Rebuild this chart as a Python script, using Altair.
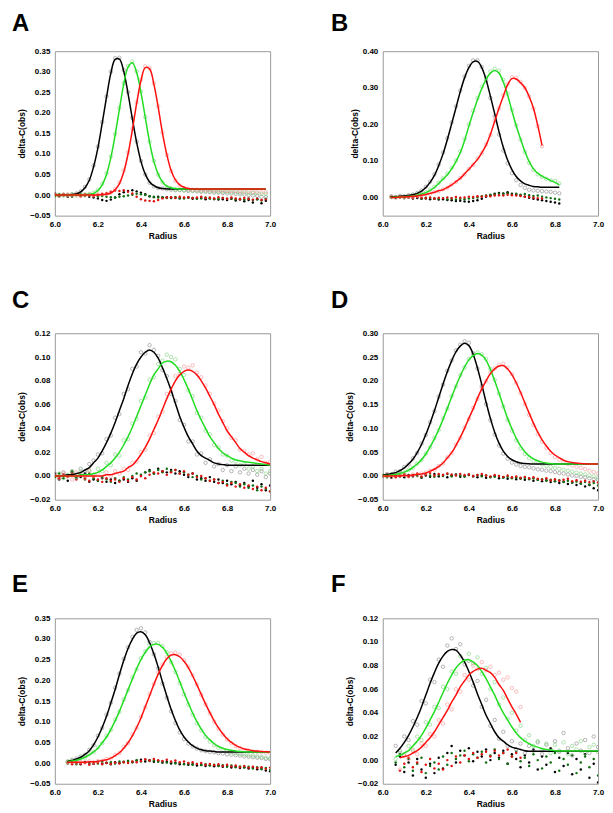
import altair as alt
import pandas as pd

RADIUS = [6.00, 6.02, 6.04, 6.06, 6.08, 6.10, 6.12, 6.14, 6.16, 6.18,
          6.20, 6.22, 6.24, 6.26, 6.28, 6.30, 6.32, 6.34, 6.36, 6.38,
          6.40, 6.42, 6.44, 6.46, 6.48, 6.50, 6.52, 6.54, 6.56, 6.58,
          6.60, 6.62, 6.64, 6.66, 6.68, 6.70, 6.72, 6.74, 6.76, 6.78,
          6.80, 6.82, 6.84, 6.86, 6.88, 6.90, 6.92, 6.94, 6.96, 6.98, 7.00]
SERIES = ["black", "green", "red"]
X_TICKS = [6.0, 6.2, 6.4, 6.6, 6.8, 7.0]

# ---------------- Panel A (starts 6.00) ----------------
A_FIT_K = [0.000, 0.000, 0.000, 0.000, 0.001, 0.003, 0.008, 0.018, 0.036, 0.069,
           0.115, 0.175, 0.238, 0.296, 0.330, 0.331, 0.301, 0.247, 0.186, 0.128,
           0.082, 0.051, 0.032, 0.023, 0.018, 0.016, 0.015, 0.015, 0.015, 0.015,
           0.015, 0.015, 0.015, 0.015, 0.015, 0.015, 0.015, 0.015, 0.015, 0.015,
           0.015, 0.015, 0.015, 0.015, 0.015, 0.015, 0.015, 0.015, 0.015, 0.015]
A_FIT_G = [0.000, 0.000, 0.000, 0.000, 0.000, 0.000, 0.000, 0.001, 0.002, 0.004,
           0.011, 0.025, 0.050, 0.091, 0.146, 0.209, 0.270, 0.311, 0.322, 0.298,
           0.250, 0.189, 0.129, 0.082, 0.051, 0.032, 0.022, 0.018, 0.016, 0.015,
           0.015, 0.015, 0.015, 0.015, 0.015, 0.015, 0.015, 0.015, 0.015, 0.015,
           0.015, 0.015, 0.015, 0.015, 0.015, 0.015, 0.015, 0.015, 0.015, 0.015]
A_FIT_R = [0.000, 0.000, 0.000, 0.000, 0.000, 0.000, 0.000, 0.000, 0.000, 0.000,
           0.000, 0.001, 0.002, 0.005, 0.013, 0.028, 0.056, 0.100, 0.158, 0.223,
           0.278, 0.310, 0.307, 0.270, 0.214, 0.151, 0.099, 0.060, 0.037, 0.025,
           0.019, 0.016, 0.015, 0.015, 0.015, 0.015, 0.015, 0.015, 0.015, 0.015,
           0.015, 0.015, 0.015, 0.015, 0.015, 0.015, 0.015, 0.015, 0.015, 0.015]
A_OBS_K = [0.003, -0.002, 0.001, -0.001, 0.002, 0.004, 0.009, 0.020, 0.038, 0.072,
           0.118, 0.178, 0.240, 0.300, 0.333, 0.334, 0.304, 0.250, 0.188, 0.130,
           0.083, 0.050, 0.030, 0.021, 0.017, 0.016, 0.014, 0.013, 0.012, 0.012,
           0.011, 0.010, 0.010, 0.009, 0.008, 0.008, 0.007, 0.006, 0.006, 0.005,
           0.004, 0.004, 0.003, 0.002, 0.001, 0.000, -0.001, -0.002, -0.004, -0.005]
A_OBS_G = [-0.002, 0.001, -0.001, 0.000, 0.002, -0.001, 0.001, 0.002, 0.003, 0.006,
           0.013, 0.027, 0.053, 0.094, 0.149, 0.212, 0.272, 0.314, 0.325, 0.301,
           0.252, 0.190, 0.130, 0.083, 0.050, 0.031, 0.020, 0.016, 0.014, 0.013,
           0.012, 0.012, 0.011, 0.011, 0.010, 0.010, 0.009, 0.009, 0.008, 0.008,
           0.008, 0.007, 0.007, 0.006, 0.006, 0.005, 0.005, 0.004, 0.003, 0.003]
A_OBS_R = [0.001, -0.002, 0.000, 0.002, -0.001, 0.001, -0.002, 0.000, 0.001, -0.001,
           0.002, 0.002, 0.003, 0.006, 0.015, 0.031, 0.060, 0.104, 0.162, 0.226,
           0.281, 0.313, 0.309, 0.272, 0.216, 0.152, 0.098, 0.058, 0.035, 0.023,
           0.017, 0.014, 0.013, 0.013, 0.012, 0.012, 0.012, 0.011, 0.011, 0.011,
           0.010, 0.010, 0.010, 0.009, 0.009, 0.009, 0.008, 0.008, 0.007, 0.007]
A_RES_K = [0.004, -0.003, 0.002, -0.004, 0.001, 0.003, -0.002, 0.000, -0.004, -0.006,
           -0.008, -0.012, -0.014, -0.011, -0.006, 0.002, 0.007, 0.010, 0.012, 0.009,
           0.006, 0.002, -0.003, -0.005, -0.004, -0.006, -0.005, -0.007, -0.006, -0.008,
           -0.007, -0.006, -0.009, -0.008, -0.007, -0.010, -0.008, -0.009, -0.011, -0.010,
           -0.012, -0.009, -0.013, -0.011, -0.015, -0.012, -0.018, -0.010, -0.020, -0.014]
A_RES_G = [-0.003, 0.002, -0.001, 0.001, -0.004, 0.000, 0.002, -0.002, 0.001, -0.001,
           -0.003, -0.002, -0.004, -0.005, -0.006, -0.004, -0.003, -0.001, 0.001, 0.003,
           0.002, 0.000, -0.003, -0.004, -0.006, -0.005, -0.007, -0.006, -0.005, -0.007,
           -0.008, -0.006, -0.007, -0.009, -0.008, -0.006, -0.008, -0.010, -0.009, -0.007,
           -0.009, -0.008, -0.010, -0.009, -0.011, -0.008, -0.012, -0.010, -0.013, -0.009]
A_RES_R = [0.002, -0.001, 0.003, -0.002, 0.000, 0.001, -0.003, 0.002, 0.000, -0.002,
           0.001, 0.003, 0.005, 0.008, 0.011, 0.010, 0.012, 0.008, 0.004, -0.004,
           -0.010, -0.013, -0.014, -0.015, -0.012, -0.008, -0.006, -0.005, -0.007, -0.004,
           -0.006, -0.005, -0.007, -0.006, -0.004, -0.007, -0.006, -0.008, -0.005, -0.007,
           -0.009, -0.006, -0.008, -0.010, -0.007, -0.009, -0.011, -0.008, -0.012, -0.010]

# ---------------- Panel B (starts 6.04) ----------------
B_FIT_K = [0.002, 0.002, 0.003, 0.004, 0.005, 0.007, 0.011, 0.017, 0.027, 0.041,
           0.060, 0.087, 0.119, 0.158, 0.201, 0.245, 0.289, 0.327, 0.355, 0.371,
           0.372, 0.355, 0.322, 0.277, 0.229, 0.180, 0.137, 0.102, 0.076, 0.057,
           0.045, 0.037, 0.033, 0.030, 0.029, 0.028, 0.028, 0.028, 0.028, 0.028]
B_FIT_G = [0.000, 0.001, 0.001, 0.002, 0.003, 0.004, 0.006, 0.009, 0.013, 0.019,
           0.027, 0.038, 0.050, 0.062, 0.078, 0.098, 0.122, 0.155, 0.195, 0.232,
           0.267, 0.298, 0.323, 0.340, 0.347, 0.340, 0.316, 0.280, 0.237, 0.196,
           0.160, 0.126, 0.098, 0.078, 0.066, 0.058, 0.052, 0.046, 0.041, 0.034]
B_FIT_R = [0.000, 0.000, 0.001, 0.001, 0.002, 0.003, 0.004, 0.006, 0.008, 0.011,
           0.014, 0.018, 0.021, 0.027, 0.034, 0.043, 0.052, 0.064, 0.077, 0.090,
           0.104, 0.122, 0.143, 0.172, 0.208, 0.244, 0.277, 0.308, 0.325, 0.324,
           0.314, 0.300, 0.276, 0.244, 0.197, 0.142]
B_OBS_K = [0.003, 0.001, 0.004, 0.003, 0.006, 0.008, 0.012, 0.019, 0.029, 0.043,
           0.063, 0.090, 0.123, 0.162, 0.205, 0.249, 0.292, 0.331, 0.360, 0.375,
           0.375, 0.357, 0.320, 0.272, 0.222, 0.172, 0.128, 0.093, 0.066, 0.047,
           0.034, 0.026, 0.021, 0.019, 0.018, 0.017, 0.016, 0.015, 0.013, 0.011]
B_OBS_G = [0.001, 0.000, 0.002, 0.001, 0.003, 0.005, 0.007, 0.010, 0.014, 0.021,
           0.029, 0.040, 0.052, 0.065, 0.081, 0.101, 0.126, 0.160, 0.200, 0.237,
           0.272, 0.303, 0.328, 0.345, 0.352, 0.347, 0.322, 0.284, 0.240, 0.197,
           0.158, 0.124, 0.095, 0.075, 0.063, 0.056, 0.051, 0.047, 0.045, 0.038]
B_OBS_R = [0.001, -0.001, 0.002, 0.000, 0.003, 0.002, 0.005, 0.006, 0.009, 0.010,
           0.015, 0.017, 0.022, 0.026, 0.035, 0.042, 0.053, 0.063, 0.078, 0.089,
           0.106, 0.121, 0.145, 0.171, 0.210, 0.243, 0.279, 0.310, 0.329, 0.327,
           0.316, 0.299, 0.276, 0.243, 0.195, 0.140]
B_RES_K = [0.002, -0.001, 0.001, -0.002, 0.000, -0.003, -0.002, -0.004, -0.003, -0.005,
           -0.004, -0.006, -0.005, -0.007, -0.008, -0.010, -0.009, -0.011, -0.012, -0.010,
           -0.008, -0.004, 0.002, 0.006, 0.010, 0.012, 0.011, 0.014, 0.010, 0.008,
           0.005, 0.002, -0.001, -0.004, -0.006, -0.008, -0.010, -0.012, -0.014, -0.017]
B_RES_G = [-0.001, 0.002, 0.000, -0.002, 0.001, -0.001, 0.000, -0.003, -0.001, -0.002,
           -0.003, -0.004, -0.002, -0.005, -0.003, -0.006, -0.004, -0.005, -0.003, -0.002,
           0.000, 0.003, 0.005, 0.007, 0.008, 0.010, 0.009, 0.011, 0.008, 0.010,
           0.007, 0.009, 0.006, 0.004, 0.005, 0.002, 0.000, -0.002, -0.004, -0.006]
B_RES_R = [0.000, 0.002, -0.001, 0.001, 0.000, -0.002, 0.001, -0.001, -0.002, 0.000,
           -0.003, -0.001, -0.002, 0.000, -0.002, 0.001, -0.001, 0.000, 0.002, 0.001,
           0.003, 0.002, 0.004, 0.003, 0.005, 0.006, 0.005, 0.007, 0.006, 0.005,
           0.004, 0.002, 0.001, -0.001, -0.002, -0.003]

# ---------------- Panel C (starts 6.00) ----------------
C_FIT_K = [0.000, 0.000, 0.000, 0.001, 0.001, 0.002, 0.003, 0.005, 0.007, 0.011,
           0.015, 0.021, 0.028, 0.036, 0.045, 0.055, 0.065, 0.076, 0.086, 0.094,
           0.100, 0.104, 0.106, 0.104, 0.099, 0.091, 0.082, 0.072, 0.061, 0.050,
           0.041, 0.033, 0.027, 0.021, 0.017, 0.015, 0.013, 0.011, 0.010, 0.0095,
           0.009, 0.009, 0.009, 0.009, 0.009, 0.009, 0.009, 0.009, 0.009, 0.009, 0.009]
C_FIT_G = [0.000, 0.000, 0.000, 0.000, 0.000, 0.000, 0.001, 0.001, 0.001, 0.002,
           0.003, 0.005, 0.008, 0.011, 0.015, 0.020, 0.026, 0.033, 0.041, 0.050,
           0.059, 0.068, 0.077, 0.085, 0.090, 0.095, 0.0965, 0.096, 0.093, 0.088,
           0.081, 0.073, 0.064, 0.055, 0.047, 0.040, 0.033, 0.028, 0.023, 0.0195,
           0.017, 0.015, 0.0136, 0.0127, 0.012, 0.0115, 0.011, 0.0105, 0.010, 0.0095, 0.009]
C_FIT_R = [0.000, 0.000, 0.000, 0.000, 0.000, 0.000, 0.000, 0.000, 0.000, 0.000,
           0.000, 0.000, 0.001, 0.001, 0.002, 0.003, 0.004, 0.007, 0.009, 0.013,
           0.018, 0.024, 0.031, 0.039, 0.047, 0.056, 0.065, 0.073, 0.080, 0.085,
           0.088, 0.089, 0.088, 0.085, 0.080, 0.074, 0.067, 0.060, 0.052, 0.045,
           0.038, 0.033, 0.028, 0.023, 0.020, 0.017, 0.015, 0.0135, 0.012, 0.011, 0.010]
C_OBS_K = [0.002, -0.002, 0.003, 0.000, 0.004, -0.001, 0.006, 0.003, 0.010, 0.013,
           0.018, 0.019, 0.031, 0.034, 0.049, 0.052, 0.069, 0.073, 0.090, 0.092,
           0.104, 0.103, 0.110, 0.106, 0.101, 0.089, 0.084, 0.069, 0.063, 0.047,
           0.043, 0.029, 0.029, 0.018, 0.019, 0.011, 0.014, 0.008, 0.010, 0.005,
           0.009, 0.004, 0.008, 0.003, 0.006, 0.002, 0.005, 0.001, 0.004, -0.001, 0.002]
C_OBS_G = [-0.001, 0.002, -0.002, 0.001, 0.003, -0.001, 0.004, 0.000, 0.005, 0.001,
           0.006, 0.004, 0.011, 0.009, 0.018, 0.017, 0.030, 0.031, 0.044, 0.048,
           0.063, 0.066, 0.081, 0.083, 0.094, 0.097, 0.102, 0.100, 0.098, 0.090,
           0.085, 0.072, 0.067, 0.053, 0.049, 0.038, 0.035, 0.026, 0.024, 0.018,
           0.017, 0.013, 0.012, 0.009, 0.010, 0.006, 0.008, 0.004, 0.006, 0.002, 0.004]
C_OBS_R = [0.001, -0.002, 0.002, 0.000, -0.003, 0.003, 0.001, -0.002, 0.004, 0.000,
           0.002, -0.001, 0.003, 0.000, 0.004, 0.002, 0.006, 0.005, 0.011, 0.012,
           0.020, 0.022, 0.034, 0.036, 0.050, 0.054, 0.069, 0.071, 0.084, 0.086,
           0.092, 0.091, 0.093, 0.087, 0.083, 0.076, 0.069, 0.061, 0.055, 0.046,
           0.040, 0.032, 0.030, 0.022, 0.021, 0.018, 0.019, 0.014, 0.016, 0.011, 0.012]
C_RES_K = [0.002, -0.003, 0.001, -0.004, 0.003, -0.002, -0.001, 0.002, -0.005, -0.003,
           -0.004, -0.002, -0.005, -0.003, -0.006, -0.004, -0.003, -0.005, -0.002, -0.004,
           0.000, 0.003, 0.005, 0.002, 0.006, 0.004, 0.003, 0.005, 0.002, 0.004,
           0.001, -0.001, 0.002, -0.003, -0.002, -0.004, -0.001, -0.005, -0.003, -0.006,
           -0.004, -0.007, -0.005, -0.008, -0.006, -0.009, -0.004, -0.010, -0.007, -0.012, -0.008]
C_RES_G = [-0.001, 0.002, -0.002, 0.000, 0.004, -0.001, 0.001, -0.003, 0.002, -0.002,
           -0.004, -0.001, -0.003, -0.005, -0.002, -0.004, -0.001, -0.003, 0.000, 0.002,
           0.001, 0.003, 0.004, 0.002, 0.005, 0.003, 0.006, 0.004, 0.005, 0.002,
           0.003, 0.001, -0.001, 0.000, -0.003, -0.002, -0.004, -0.003, -0.006, -0.004,
           -0.007, -0.005, -0.006, -0.009, -0.007, -0.010, -0.008, -0.012, -0.009, -0.011, -0.013]
C_RES_R = [0.000, -0.002, 0.001, -0.001, 0.002, -0.003, 0.000, -0.002, -0.004, -0.001,
           -0.003, -0.005, -0.002, -0.004, -0.003, -0.005, -0.002, -0.004, -0.001, -0.003,
           0.000, -0.002, 0.001, 0.003, 0.002, 0.004, 0.001, 0.003, 0.005, 0.002,
           0.004, 0.001, 0.002, -0.001, 0.000, -0.002, -0.004, -0.003, -0.006, -0.005,
           -0.008, -0.006, -0.009, -0.007, -0.010, -0.008, -0.011, -0.009, -0.012, -0.010, -0.013]

# ---------------- Panel D (starts 6.00) ----------------
D_FIT_K = [0.002, 0.003, 0.005, 0.007, 0.011, 0.017, 0.025, 0.035, 0.049, 0.066,
           0.087, 0.111, 0.137, 0.165, 0.193, 0.219, 0.242, 0.261, 0.273, 0.279,
           0.274, 0.256, 0.227, 0.192, 0.155, 0.121, 0.092, 0.069, 0.052, 0.041,
           0.034, 0.030, 0.027, 0.026, 0.0255, 0.025, 0.025, 0.025, 0.025, 0.025,
           0.025, 0.025, 0.025, 0.025, 0.025, 0.025, 0.025, 0.025, 0.025, 0.025, 0.025]
D_FIT_G = [0.001, 0.001, 0.002, 0.003, 0.005, 0.008, 0.012, 0.018, 0.025, 0.034,
           0.046, 0.061, 0.078, 0.097, 0.119, 0.142, 0.166, 0.189, 0.210, 0.229,
           0.244, 0.253, 0.2575, 0.254, 0.243, 0.224, 0.200, 0.174, 0.147, 0.121,
           0.099, 0.079, 0.063, 0.051, 0.042, 0.036, 0.032, 0.029, 0.027, 0.026,
           0.025, 0.025, 0.025, 0.025, 0.025, 0.025, 0.025, 0.025, 0.025, 0.025, 0.025]
D_FIT_R = [0.000, 0.000, 0.000, 0.000, 0.000, 0.001, 0.001, 0.002, 0.003, 0.004,
           0.006, 0.010, 0.014, 0.020, 0.027, 0.038, 0.049, 0.064, 0.081, 0.100,
           0.121, 0.141, 0.163, 0.183, 0.200, 0.215, 0.225, 0.231, 0.232, 0.225,
           0.213, 0.196, 0.176, 0.154, 0.132, 0.111, 0.092, 0.076, 0.063, 0.052,
           0.044, 0.038, 0.033, 0.030, 0.028, 0.027, 0.026, 0.0255, 0.025, 0.025, 0.025]
D_OBS_K = [0.000, 0.004, 0.003, 0.009, 0.010, 0.019, 0.024, 0.037, 0.048, 0.068,
           0.086, 0.113, 0.136, 0.167, 0.192, 0.221, 0.243, 0.264, 0.276, 0.283,
           0.280, 0.258, 0.226, 0.189, 0.151, 0.117, 0.087, 0.064, 0.047, 0.036,
           0.028, 0.024, 0.021, 0.019, 0.018, 0.016, 0.014, 0.013, 0.011, 0.010,
           0.008, 0.006, 0.005, 0.003, 0.001, 0.000, -0.002, -0.003, -0.005, -0.007, -0.008]
D_OBS_G = [0.002, -0.001, 0.003, 0.002, 0.006, 0.007, 0.013, 0.017, 0.026, 0.033,
           0.047, 0.060, 0.080, 0.096, 0.121, 0.141, 0.168, 0.188, 0.212, 0.228,
           0.246, 0.254, 0.260, 0.256, 0.246, 0.225, 0.202, 0.173, 0.146, 0.118,
           0.095, 0.075, 0.058, 0.046, 0.037, 0.031, 0.027, 0.024, 0.021, 0.019,
           0.017, 0.015, 0.013, 0.011, 0.009, 0.007, 0.005, 0.003, 0.001, -0.001, -0.003]
D_OBS_R = [-0.001, 0.001, -0.002, 0.002, 0.000, 0.002, -0.001, 0.003, 0.002, 0.005,
           0.007, 0.011, 0.013, 0.021, 0.026, 0.039, 0.048, 0.066, 0.080, 0.102,
           0.120, 0.143, 0.162, 0.185, 0.199, 0.217, 0.226, 0.234, 0.236, 0.228,
           0.214, 0.196, 0.174, 0.151, 0.128, 0.107, 0.088, 0.072, 0.059, 0.048,
           0.040, 0.034, 0.029, 0.025, 0.022, 0.019, 0.017, 0.014, 0.011, 0.008, 0.005]
D_RES_K = [-0.002, 0.003, -0.004, 0.001, 0.004, -0.003, 0.002, -0.001, 0.003, -0.004,
           0.001, -0.002, 0.004, -0.001, 0.002, -0.003, 0.001, 0.003, -0.002, 0.000,
           0.002, -0.001, -0.003, 0.001, -0.004, -0.002, 0.000, -0.005, -0.003, -0.006,
           -0.004, -0.007, -0.005, -0.008, -0.006, -0.010, -0.008, -0.011, -0.009, -0.013,
           -0.011, -0.015, -0.012, -0.017, -0.014, -0.019, -0.016, -0.022, -0.019, -0.026, -0.030]
D_RES_G = [0.001, -0.003, 0.002, 0.000, -0.002, 0.003, -0.001, 0.002, 0.000, -0.003,
           0.003, 0.001, -0.002, 0.002, 0.000, 0.004, -0.001, 0.002, 0.001, -0.002,
           0.003, 0.000, 0.002, -0.001, 0.001, -0.003, -0.002, 0.000, -0.004, -0.002,
           -0.005, -0.003, -0.006, -0.004, -0.007, -0.005, -0.008, -0.007, -0.010, -0.008,
           -0.011, -0.009, -0.013, -0.010, -0.014, -0.012, -0.016, -0.013, -0.018, -0.015, -0.020]
D_RES_R = [0.002, -0.001, 0.003, -0.003, 0.001, 0.004, -0.002, 0.001, 0.005, -0.001,
           0.003, 0.006, 0.001, 0.004, 0.002, 0.005, 0.003, 0.001, 0.004, 0.002,
           0.003, 0.000, 0.002, 0.004, 0.001, -0.001, 0.002, 0.000, -0.002, 0.001,
           -0.003, -0.001, -0.004, -0.002, -0.005, -0.003, -0.006, -0.008, -0.005, -0.009,
           -0.007, -0.010, -0.008, -0.006, -0.011, -0.009, -0.012, -0.010, -0.013, -0.011, -0.014]

# ---------------- Panel E (starts 6.06) ----------------
E_FIT_K = [0.005, 0.006, 0.010, 0.014, 0.021, 0.030, 0.044, 0.063, 0.086, 0.113,
           0.145, 0.178, 0.214, 0.248, 0.277, 0.299, 0.314, 0.3175, 0.310, 0.291,
           0.264, 0.232, 0.196, 0.162, 0.130, 0.103, 0.080, 0.063, 0.051, 0.042,
           0.036, 0.032, 0.030, 0.029, 0.028, 0.027, 0.027, 0.027, 0.027, 0.027,
           0.027, 0.027, 0.027, 0.027, 0.027, 0.027, 0.027, 0.027]
E_FIT_G = [0.004, 0.005, 0.007, 0.010, 0.014, 0.020, 0.027, 0.036, 0.049, 0.063,
           0.081, 0.102, 0.125, 0.151, 0.177, 0.203, 0.228, 0.250, 0.268, 0.281,
           0.287, 0.287, 0.280, 0.266, 0.246, 0.223, 0.197, 0.170, 0.145, 0.121,
           0.100, 0.082, 0.067, 0.056, 0.047, 0.040, 0.036, 0.033, 0.031, 0.029,
           0.028, 0.0275, 0.027, 0.027, 0.027, 0.027, 0.027, 0.027]
E_FIT_R = [0.002, 0.002, 0.002, 0.002, 0.002, 0.003, 0.003, 0.004, 0.006, 0.008,
           0.012, 0.018, 0.025, 0.036, 0.049, 0.066, 0.086, 0.109, 0.136, 0.163,
           0.190, 0.215, 0.236, 0.252, 0.261, 0.262, 0.257, 0.246, 0.231, 0.211,
           0.189, 0.166, 0.143, 0.122, 0.102, 0.085, 0.071, 0.059, 0.050, 0.043,
           0.038, 0.034, 0.032, 0.030, 0.029, 0.028, 0.0275, 0.027]
E_OBS_K = [0.004, 0.008, 0.011, 0.016, 0.020, 0.032, 0.043, 0.066, 0.085, 0.117,
           0.146, 0.182, 0.216, 0.252, 0.280, 0.305, 0.322, 0.326, 0.316, 0.293,
           0.263, 0.229, 0.192, 0.158, 0.125, 0.097, 0.074, 0.058, 0.047, 0.040,
           0.035, 0.031, 0.029, 0.027, 0.026, 0.024, 0.023, 0.021, 0.020, 0.019,
           0.018, 0.016, 0.015, 0.014, 0.013, 0.012, 0.010, 0.009]
E_OBS_G = [0.003, 0.006, 0.006, 0.011, 0.013, 0.021, 0.026, 0.038, 0.048, 0.066,
           0.080, 0.105, 0.124, 0.154, 0.176, 0.207, 0.227, 0.254, 0.270, 0.286,
           0.290, 0.291, 0.283, 0.268, 0.244, 0.220, 0.193, 0.166, 0.141, 0.117,
           0.096, 0.079, 0.063, 0.052, 0.043, 0.037, 0.032, 0.029, 0.026, 0.024,
           0.022, 0.021, 0.019, 0.018, 0.016, 0.015, 0.013, 0.012]
E_OBS_R = [0.001, 0.003, 0.001, 0.003, 0.002, 0.004, 0.002, 0.005, 0.005, 0.010,
           0.011, 0.020, 0.024, 0.039, 0.048, 0.069, 0.085, 0.112, 0.135, 0.167,
           0.191, 0.219, 0.238, 0.256, 0.265, 0.267, 0.262, 0.249, 0.233, 0.212,
           0.190, 0.165, 0.142, 0.120, 0.100, 0.083, 0.069, 0.057, 0.048, 0.041,
           0.036, 0.032, 0.030, 0.028, 0.027, 0.026, 0.025, 0.024]
E_RES_K = [0.002, -0.002, 0.001, -0.003, 0.002, 0.000, -0.002, 0.003, -0.001, 0.001,
           -0.003, 0.002, 0.000, 0.003, 0.005, 0.002, 0.006, 0.008, 0.004, 0.007,
           0.003, 0.005, 0.001, 0.003, -0.001, 0.001, -0.003, -0.002, -0.004, -0.003,
           -0.006, -0.004, -0.007, -0.005, -0.008, -0.006, -0.009, -0.007, -0.011, -0.009,
           -0.012, -0.010, -0.013, -0.011, -0.015, -0.012, -0.018, -0.020]
E_RES_G = [-0.001, 0.001, -0.003, 0.000, 0.002, -0.002, 0.001, -0.001, 0.003, 0.000,
           0.002, -0.001, 0.004, 0.002, 0.005, 0.003, 0.007, 0.004, 0.008, 0.005,
           0.006, 0.003, 0.004, 0.001, 0.002, -0.001, 0.000, -0.003, -0.001, -0.004,
           -0.002, -0.005, -0.003, -0.006, -0.004, -0.007, -0.005, -0.009, -0.006, -0.010,
           -0.008, -0.011, -0.009, -0.013, -0.010, -0.015, -0.012, -0.017]
E_RES_R = [0.000, -0.003, 0.001, -0.002, 0.000, -0.004, -0.001, 0.001, -0.003, 0.000,
           -0.002, 0.001, -0.001, 0.002, 0.000, 0.004, 0.002, 0.005, 0.009, 0.006,
           0.010, 0.007, 0.005, 0.008, 0.004, 0.006, 0.002, 0.004, 0.000, 0.002,
           -0.002, 0.000, -0.004, -0.002, -0.005, -0.003, -0.007, -0.004, -0.008, -0.006,
           -0.010, -0.007, -0.011, -0.009, -0.012, -0.010, -0.014, -0.011]

# ---------------- Panel F (black/green start 6.06, red 6.08..6.64) ----------------
F_FIT_K = [0.006, 0.010, 0.015, 0.021, 0.028, 0.036, 0.045, 0.055, 0.065, 0.074,
           0.082, 0.088, 0.092, 0.0935, 0.093, 0.089, 0.083, 0.075, 0.066, 0.056,
           0.047, 0.038, 0.031, 0.024, 0.019, 0.016, 0.013, 0.011, 0.010, 0.009,
           0.008, 0.0075, 0.0075, 0.0075, 0.0075, 0.0075, 0.0075, 0.0075, 0.0075, 0.0075,
           0.0075, 0.0075, 0.0075, 0.0075, 0.0075, 0.0075, 0.0075, 0.0075]
F_FIT_G = [0.003, 0.004, 0.006, 0.008, 0.012, 0.016, 0.021, 0.027, 0.034, 0.041,
           0.049, 0.057, 0.065, 0.072, 0.078, 0.082, 0.0845, 0.085, 0.083, 0.080,
           0.075, 0.069, 0.062, 0.055, 0.047, 0.040, 0.034, 0.028, 0.023, 0.019,
           0.016, 0.014, 0.012, 0.011, 0.0096, 0.009, 0.0085, 0.008, 0.0078, 0.0078,
           0.0078, 0.0078, 0.0078, 0.0078, 0.0078, 0.0078, 0.0078, 0.0078]
F_FIT_R = [0.002, 0.003, 0.004, 0.006, 0.008, 0.011, 0.015, 0.019, 0.024, 0.030,
           0.036, 0.042, 0.049, 0.055, 0.062, 0.067, 0.072, 0.075, 0.077, 0.0777,
           0.076, 0.074, 0.070, 0.064, 0.059, 0.052, 0.045, 0.039, 0.032]
F_OBS_K = [0.012, 0.008, 0.020, 0.017, 0.033, 0.030, 0.050, 0.048, 0.068, 0.066,
           0.085, 0.079, 0.097, 0.103, 0.094, 0.098, 0.081, 0.084, 0.063, 0.067,
           0.045, 0.051, 0.029, 0.034, 0.018, 0.024, 0.012, 0.016, 0.009, 0.014,
           0.006, 0.012, 0.008, 0.015, 0.005, 0.013, 0.009, 0.016, 0.007, 0.023,
           0.010, 0.004, 0.014, 0.008, 0.017, 0.006, 0.020, 0.011]
F_OBS_G = [0.001, 0.006, 0.004, 0.012, 0.009, 0.020, 0.017, 0.032, 0.030, 0.045,
           0.044, 0.062, 0.060, 0.075, 0.073, 0.088, 0.084, 0.090, 0.082, 0.087,
           0.073, 0.078, 0.060, 0.066, 0.047, 0.053, 0.035, 0.040, 0.025, 0.029,
           0.017, 0.021, 0.012, 0.016, 0.009, 0.014, 0.006, 0.013, 0.008, 0.015,
           0.005, 0.012, 0.009, 0.016, 0.006, 0.011, 0.013, 0.007]
F_OBS_R = [-0.008, 0.004, 0.001, 0.008, 0.005, 0.014, 0.012, 0.022, 0.020, 0.034,
           0.031, 0.047, 0.043, 0.060, 0.058, 0.072, 0.068, 0.080, 0.077, 0.083,
           0.076, 0.079, 0.072, 0.074, 0.068, 0.070, 0.061, 0.058, 0.045]
F_RES_K = [-0.004, 0.003, -0.010, -0.002, -0.013, 0.001, -0.008, -0.015, -0.003, -0.011,
           0.002, -0.007, 0.006, 0.012, -0.002, 0.008, 0.004, 0.010, -0.001, 0.007,
           0.003, 0.009, 0.000, 0.006, 0.002, 0.008, -0.003, 0.005, 0.001, -0.006,
           0.004, -0.002, 0.009, -0.008, 0.003, -0.004, 0.010, -0.010, 0.002, -0.005,
           0.006, -0.012, 0.001, -0.008, 0.005, -0.015, -0.003, -0.019]
F_RES_G = [-0.002, 0.005, -0.006, 0.001, -0.009, -0.003, 0.002, -0.011, -0.005, -0.002,
           -0.008, 0.003, -0.004, 0.006, 0.001, 0.004, 0.008, -0.001, 0.005, 0.002,
           0.007, -0.002, 0.004, 0.009, 0.001, 0.006, -0.003, 0.003, 0.007, -0.001,
           0.002, -0.005, 0.005, 0.000, -0.007, 0.003, -0.002, 0.006, -0.009, 0.001,
           -0.004, 0.004, -0.011, -0.002, 0.003, -0.006, 0.001, -0.013]
F_RES_R = [-0.009, -0.003, 0.002, -0.006, -0.002, -0.010, -0.004, 0.001, -0.007, -0.003,
           -0.008, 0.000, -0.005, 0.003, -0.002, 0.004, 0.001, 0.006, 0.002, 0.005,
           0.007, 0.003, 0.008, 0.004, 0.006, 0.009, 0.003, 0.006, 0.002]

A_YTICKS = [-0.05, 0.0, 0.05, 0.10, 0.15, 0.20, 0.25, 0.30, 0.35]
B_YTICKS = [0.0, 0.10, 0.20, 0.30, 0.40]
C_YTICKS = [-0.02, 0.0, 0.02, 0.04, 0.06, 0.08, 0.10, 0.12]
D_YTICKS = [-0.05, 0.0, 0.05, 0.10, 0.15, 0.20, 0.25, 0.30]

# ---------------- styling ----------------
FONT = "Liberation Sans"
COLORS = {
    "fit": {"black": "#000000", "green": "#22dd22", "red": "#ff1010"},
    "obs": {"black": "#7a7a7a", "green": "#6fcf6f", "red": "#f58a8a"},
    "res": {"black": "#000000", "green": "#0f6e0f", "red": "#e01010"},
}

PANELS = [
    dict(letter="A", ymin=-0.05, ymax=0.35, yticks=A_YTICKS, h=165, dx=-43, off=11,
         fit=[(A_FIT_K, 0), (A_FIT_G, 0), (A_FIT_R, 0)],
         obs=[(A_OBS_K, 0), (A_OBS_G, 0), (A_OBS_R, 0)],
         res=[(A_RES_K, 0), (A_RES_G, 0), (A_RES_R, 0)]),
    dict(letter="B", ymin=-0.05, ymax=0.40, yticks=B_YTICKS, h=165, dx=-52, off=11,
         fit=[(B_FIT_K, 2), (B_FIT_G, 2), (B_FIT_R, 2)],
         obs=[(B_OBS_K, 2), (B_OBS_G, 2), (B_OBS_R, 2)],
         res=[(B_RES_K, 2), (B_RES_G, 2), (B_RES_R, 2)]),
    dict(letter="C", ymin=-0.02, ymax=0.12, yticks=C_YTICKS, h=167, dx=-43, off=16,
         fit=[(C_FIT_K, 0), (C_FIT_G, 0), (C_FIT_R, 0)],
         obs=[(C_OBS_K, 0), (C_OBS_G, 0), (C_OBS_R, 0)],
         res=[(C_RES_K, 0), (C_RES_G, 0), (C_RES_R, 0)]),
    dict(letter="D", ymin=-0.05, ymax=0.30, yticks=D_YTICKS, h=167, dx=-52, off=16,
         fit=[(D_FIT_K, 0), (D_FIT_G, 0), (D_FIT_R, 0)],
         obs=[(D_OBS_K, 0), (D_OBS_G, 0), (D_OBS_R, 0)],
         res=[(D_RES_K, 0), (D_RES_G, 0), (D_RES_R, 0)]),
    dict(letter="E", ymin=-0.05, ymax=0.35, yticks=A_YTICKS, h=166, dx=-43, off=17,
         fit=[(E_FIT_K, 3), (E_FIT_G, 3), (E_FIT_R, 3)],
         obs=[(E_OBS_K, 3), (E_OBS_G, 3), (E_OBS_R, 3)],
         res=[(E_RES_K, 3), (E_RES_G, 3), (E_RES_R, 3)]),
    dict(letter="F", ymin=-0.02, ymax=0.12, yticks=C_YTICKS, h=166, dx=-52, off=17,
         fit=[(F_FIT_K, 3), (F_FIT_G, 3), (F_FIT_R, 4)],
         obs=[(F_OBS_K, 3), (F_OBS_G, 3), (F_OBS_R, 4)],
         res=[(F_RES_K, 3), (F_RES_G, 3), (F_RES_R, 4)]),
]


def make_panel(p):
    rows = []
    for kind in ("res", "obs", "fit"):
        for s, (vals, start) in zip(SERIES, p[kind]):
            for xv, v in zip(RADIUS[start:], vals):
                if v is not None:
                    rows.append({"kind": kind, "series": s, "x": xv, "y": v,
                                 "col": COLORS[kind][s]})
    df = pd.DataFrame(rows)
    x = alt.X("x:Q", scale=alt.Scale(domain=[6.0, 7.0], nice=False, zero=False),
              axis=alt.Axis(title="Radius", values=X_TICKS, format=".1f", labelFlush=False))
    y = alt.Y("y:Q", scale=alt.Scale(domain=[p["ymin"], p["ymax"]], nice=False, zero=False),
              axis=alt.Axis(title="delta-C(obs)", values=p["yticks"], format=".2f"))
    c = alt.Color("col:N", scale=None)
    base = alt.Chart(df)
    res = base.transform_filter("datum.kind == 'res'").mark_circle(
        size=6, opacity=1, clip=True).encode(x=x, y=y, color=c)
    obs = base.transform_filter("datum.kind == 'obs'").mark_point(
        shape="circle", filled=False, size=12, strokeWidth=0.6, opacity=0.9, clip=True
    ).encode(x=x, y=y, color=c)
    fit = base.transform_filter("datum.kind == 'fit'").mark_line(
        strokeWidth=1.5, interpolate="catmull-rom", clip=True
    ).encode(x=x, y=y, color=c, detail="series:N")
    return alt.layer(res, obs, fit).properties(
        width=216, height=p["h"],
        title=alt.TitleParams(p["letter"], anchor="start", frame="group", fontSize=24,
                              fontWeight="bold", font=FONT, dx=p["dx"], offset=p["off"],
                              color="#000000"),
    )


panels = [make_panel(p) for p in PANELS]
rows = [alt.hconcat(panels[0], panels[1], spacing=53),
        alt.hconcat(panels[2], panels[3], spacing=53),
        alt.hconcat(panels[4], panels[5], spacing=53)]

chart = alt.vconcat(*rows, spacing=48).properties(
    padding={"left": 3, "top": 2, "right": 0, "bottom": 0}
).configure_axis(
    labelFont=FONT, labelFontSize=8, labelFontWeight="bold", labelColor="#000000",
    titleFont=FONT, titleFontSize=8.5, titleFontWeight="bold", titleColor="#000000",
    ticks=False, domain=False, grid=False, labelPadding=5, titlePadding=3,
).configure_view(stroke="#9a9a9a", strokeWidth=1)

chart.save("out.html", embed_options={"renderer": "svg", "actions": False})
